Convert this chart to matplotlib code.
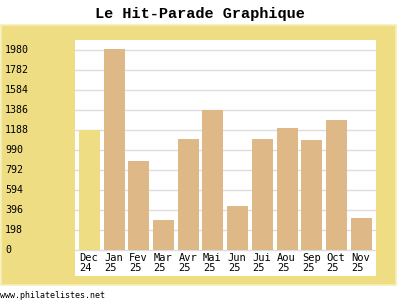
import matplotlib.pyplot as plt
import matplotlib.patches as patches
import matplotlib.transforms as mtransforms
import numpy as np

mois = ["Dec\n24", "Jan\n25", "Fev\n25", "Mar\n25", "Avr\n25", "Mai\n25",
        "Jun\n25", "Jui\n25", "Aou\n25", "Sep\n25", "Oct\n25", "Nov\n25"]
valeurs = [1190, 1985, 880, 300, 1100, 1390, 440, 1100, 1210, 1090, 1290, 320]
yticks = [0, 198, 396, 594, 792, 990, 1188, 1386, 1584, 1782, 1980]

jaune = "#EEDD82"
tan = "#DEB887"

fig = plt.figure(figsize=(4, 3), dpi=100)
fig.patch.set_facecolor("white")

# cadre jaune
cadre = patches.Rectangle((1/400, 15/300), 395/400, 260/300,
                          transform=fig.transFigure, facecolor=jaune,
                          edgecolor="#F6EEB6", linewidth=1.2, zorder=-1)
fig.add_artist(cadre)

ax = fig.add_axes([75/400, 24/300, 301/400, 236/300])
ax.set_zorder(1)
ax.set_facecolor("white")
x = np.arange(len(valeurs))
couleurs = [jaune] + [tan] * (len(valeurs) - 1)
ax.bar(x, valeurs, width=0.85, color=couleurs, zorder=2)
ax.set_xlim(-0.585, len(valeurs) - 0.4)
ax.set_ylim(-257.4, 2079)
for v in yticks:
    ax.axhline(v, color="#DDDDDD", linewidth=1, zorder=1)
ax.set_xticks([])
ax.set_yticks([])
for s in ax.spines.values():
    s.set_visible(False)

trans = mtransforms.blended_transform_factory(fig.transFigure, ax.transData)
for v in yticks:
    ax.text(5/400, v, str(v), transform=trans, ha="left", va="center",
            fontsize=7.2, family="DejaVu Sans Mono", clip_on=False)
for i, m in enumerate(mois):
    ax.text(i - 0.40, -30, m, ha="left", va="top", fontsize=7.5,
            family="DejaVu Sans Mono", linespacing=0.95)

fig.text(0.5, 1 - 14/300, "Le Hit-Parade Graphique", ha="center", va="center",
         fontsize=11, family="Liberation Mono", weight="bold")
fig.text(0/400, 1 - 295/300, "www.philatelistes.net", ha="left", va="center",
         fontsize=6, family="DejaVu Sans Mono")

plt.savefig("out.png", dpi=100)
